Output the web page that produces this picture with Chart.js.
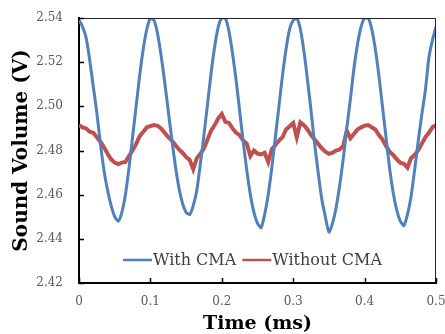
<!DOCTYPE html>
<html>
<head>
<meta charset="utf-8">
<script src="https://cdn.jsdelivr.net/npm/chart.js@4.4.1/dist/chart.umd.min.js"></script>
<style>
    html, body { margin: 0; padding: 0; background: #fff; }
    #wrap { width: 445px; height: 334px; }
</style>
</head>
<body>
<div id="wrap"><canvas id="chart"></canvas></div>
<script>
// Time axis (ms), one sample every 0.005 ms
const timeMs = [
    0.000, 0.005, 0.010, 0.015, 0.020, 0.025, 0.030, 0.035, 0.040, 0.045,
    0.050, 0.055, 0.060, 0.065, 0.070, 0.075, 0.080, 0.085, 0.090, 0.095,
    0.100, 0.105, 0.110, 0.115, 0.120, 0.125, 0.130, 0.135, 0.140, 0.145,
    0.150, 0.155, 0.160, 0.165, 0.170, 0.175, 0.180, 0.185, 0.190, 0.195,
    0.200, 0.205, 0.210, 0.215, 0.220, 0.225, 0.230, 0.235, 0.240, 0.245,
    0.250, 0.255, 0.260, 0.265, 0.270, 0.275, 0.280, 0.285, 0.290, 0.295,
    0.300, 0.305, 0.310, 0.315, 0.320, 0.325, 0.330, 0.335, 0.340, 0.345,
    0.350, 0.355, 0.360, 0.365, 0.370, 0.375, 0.380, 0.385, 0.390, 0.395,
    0.400, 0.405, 0.410, 0.415, 0.420, 0.425, 0.430, 0.435, 0.440, 0.445,
    0.450, 0.455, 0.460, 0.465, 0.470, 0.475, 0.480, 0.485, 0.490, 0.495,
    0.500
];

// Sound volume (V) with CMA
const withCma = [
    2.539, 2.536, 2.531, 2.521, 2.509, 2.497, 2.483, 2.471, 2.462, 2.455,
    2.450, 2.448, 2.452, 2.460, 2.472, 2.486, 2.500, 2.514, 2.526, 2.535,
    2.540, 2.539, 2.533, 2.523, 2.511, 2.498, 2.485, 2.473, 2.463, 2.456,
    2.452, 2.451, 2.455, 2.462, 2.474, 2.487, 2.501, 2.515, 2.527, 2.536,
    2.540, 2.540, 2.534, 2.524, 2.512, 2.498, 2.484, 2.471, 2.460, 2.452,
    2.447, 2.445, 2.451, 2.460, 2.472, 2.486, 2.500, 2.514, 2.526, 2.535,
    2.539, 2.540, 2.535, 2.525, 2.512, 2.498, 2.483, 2.470, 2.458, 2.450,
    2.443, 2.447, 2.454, 2.464, 2.476, 2.490, 2.503, 2.517, 2.528, 2.536,
    2.540, 2.540, 2.535, 2.526, 2.514, 2.500, 2.486, 2.472, 2.461, 2.453,
    2.448, 2.446, 2.451, 2.459, 2.471, 2.484, 2.496, 2.507, 2.522, 2.530,
    2.536
];

// Sound volume (V) without CMA
const withoutCma = [
    2.4915, 2.4905, 2.4900, 2.4885, 2.4880, 2.4860, 2.4840, 2.4815, 2.4785, 2.4760,
    2.4745, 2.4738, 2.4745, 2.4748, 2.4775, 2.4800, 2.4830, 2.4865, 2.4885, 2.4905,
    2.4910, 2.4915, 2.4912, 2.4900, 2.4880, 2.4860, 2.4845, 2.4825, 2.4805, 2.4790,
    2.4770, 2.4758, 2.4715, 2.4765, 2.4785, 2.4810, 2.4850, 2.4890, 2.4915, 2.4945,
    2.4965, 2.4930, 2.4925, 2.4900, 2.4880, 2.4870, 2.4845, 2.4830, 2.4775, 2.4800,
    2.4786, 2.4782, 2.4790, 2.4748, 2.4805, 2.4825, 2.4845, 2.4860, 2.4895, 2.4910,
    2.4925, 2.4860, 2.4928, 2.4915, 2.4895, 2.4870, 2.4850, 2.4830, 2.4810, 2.4795,
    2.4785, 2.4790, 2.4800, 2.4805, 2.4820, 2.4890, 2.4855, 2.4875, 2.4895, 2.4905,
    2.4912, 2.4915, 2.4905, 2.4895, 2.4870, 2.4850, 2.4820, 2.4795, 2.4780, 2.4760,
    2.4745, 2.4740, 2.4722, 2.4765, 2.4780, 2.4800, 2.4830, 2.4860, 2.4880, 2.4905,
    2.4915
];

const seriesLabels = ['With CMA', 'Without CMA'];
const seriesColors = ['#4F81BD', '#C0504D'];

const SERIF = '"DejaVu Serif", "Liberation Serif", serif';

const toPoints = (values) => values.map((v, i) => ({ x: timeMs[i], y: v }));

// Inward tick marks, frame on top/right and the in-plot legend
const frameAndLegend = {
    id: 'frameAndLegend',
    afterDraw(chart) {
        const ctx = chart.ctx;
        const area = chart.chartArea;
        const xs = chart.scales.x;
        const ys = chart.scales.y;

        ctx.save();
        // thin frame on top and right
        ctx.strokeStyle = '#222';
        ctx.lineWidth = 1;
        ctx.beginPath();
        ctx.moveTo(area.left, area.top + 0.5);
        ctx.lineTo(area.right - 0.5, area.top + 0.5);
        ctx.lineTo(area.right - 0.5, area.bottom);
        ctx.stroke();

        // tick marks pointing into the plot
        ctx.strokeStyle = '#000';
        ctx.lineWidth = 1.5;
        ctx.beginPath();
        xs.ticks.forEach((t, i) => {
            const px = Math.round(xs.getPixelForTick(i)) + 0.5;
            ctx.moveTo(px, area.bottom);
            ctx.lineTo(px, area.bottom - 5);
        });
        ys.ticks.forEach((t, i) => {
            const py = Math.round(ys.getPixelForTick(i)) + 0.5;
            ctx.moveTo(area.left, py);
            ctx.lineTo(area.left + 5, py);
        });
        ctx.stroke();

        // legend inside the plot, near the bottom
        ctx.font = '16px ' + SERIF;
        ctx.textBaseline = 'middle';
        ctx.textAlign = 'left';
        const sample = 29;
        const gap = 6;
        const y = area.bottom - 23;
        let x = area.left + 44;
        chart.data.datasets.forEach((ds) => {
            ctx.strokeStyle = ds.borderColor;
            ctx.lineWidth = 2.5;
            ctx.beginPath();
            ctx.moveTo(x, y);
            ctx.lineTo(x + sample, y);
            ctx.stroke();
            ctx.fillStyle = '#404040';
            ctx.fillText(ds.label, x + sample + 1, y + 1);
            x += sample + 1 + ctx.measureText(ds.label).width + gap;
        });
        ctx.restore();
    }
};

new Chart(document.getElementById('chart'), {
    type: 'line',
    data: {
        datasets: [
            {
                label: seriesLabels[0],
                data: toPoints(withCma),
                borderColor: seriesColors[0],
                backgroundColor: seriesColors[0],
                borderWidth: 3,
                pointRadius: 0,
                tension: 0.2,
                fill: false
            },
            {
                label: seriesLabels[1],
                data: toPoints(withoutCma),
                borderColor: seriesColors[1],
                backgroundColor: seriesColors[1],
                borderWidth: 4,
                pointRadius: 0,
                tension: 0,
                fill: false
            }
        ]
    },
    options: {
        responsive: true,
        maintainAspectRatio: false,
        animation: false,
        layout: {
            padding: { top: 18, right: 9, left: 0, bottom: 0 }
        },
        plugins: {
            legend: { display: false },
            tooltip: { enabled: false }
        },
        scales: {
            x: {
                type: 'linear',
                min: 0,
                max: 0.5,
                grid: { display: false, drawTicks: false },
                border: { display: true, color: '#000', width: 2 },
                ticks: {
                    stepSize: 0.1,
                    padding: 12,
                    color: '#595959',
                    font: { family: SERIF, size: 12 },
                    callback: (v) => (Math.round(v * 10) / 10).toString()
                },
                title: {
                    display: true,
                    text: 'Time (ms)',
                    color: '#000',
                    font: { family: SERIF, size: 19, weight: 'bold', lineHeight: 1 },
                    padding: { top: 0, bottom: 0 }
                },
                afterFit: (scale) => {
                    scale.height = 51;
                    scale.paddingLeft = 0;
                    scale.paddingRight = 0;
                }
            },
            y: {
                min: 2.42,
                max: 2.54,
                grid: { display: false, drawTicks: false },
                border: { display: true, color: '#000', width: 2 },
                ticks: {
                    stepSize: 0.02,
                    padding: 16,
                    color: '#595959',
                    font: { family: SERIF, size: 12 },
                    callback: (v) => v.toFixed(2)
                },
                title: {
                    display: true,
                    text: 'Sound Volume (V)',
                    color: '#000',
                    font: { family: SERIF, size: 20, weight: 'bold', lineHeight: 1 },
                    padding: { top: 12, bottom: 0 }
                },
                afterFit: (scale) => {
                    scale.width = 79;
                    scale.paddingTop = 0;
                    scale.paddingBottom = 0;
                }
            }
        }
    },
    plugins: [frameAndLegend]
});
</script>
</body>
</html>
